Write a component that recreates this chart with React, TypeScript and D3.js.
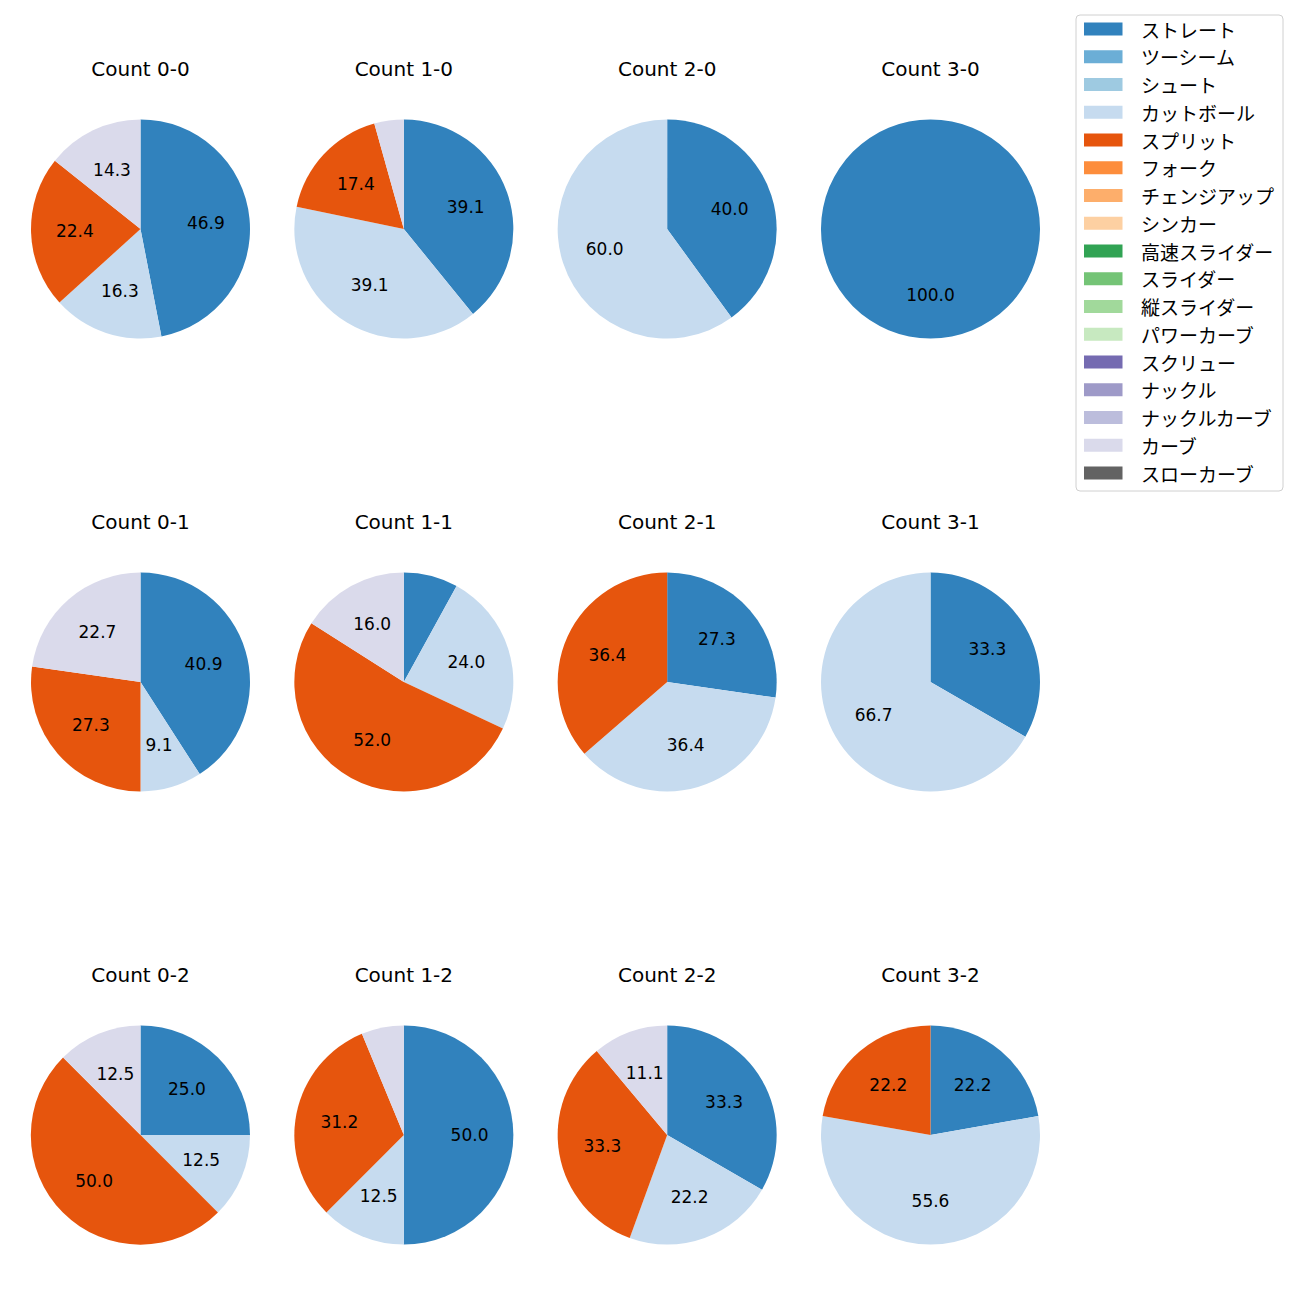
import React from "react";
import * as d3 from "d3";

const pitchTypes = [
  "ストレート", "ツーシーム", "シュート", "カットボール", "スプリット", "フォーク",
  "チェンジアップ", "シンカー", "高速スライダー", "スライダー", "縦スライダー",
  "パワーカーブ", "スクリュー", "ナックル", "ナックルカーブ", "カーブ", "スローカーブ",
];
const pitchColors = [
  "#3182bd", "#6baed6", "#9ecae1", "#c6dbef", "#e6550d", "#fd8d3c", "#fdae6b",
  "#fdd0a2", "#31a354", "#74c476", "#a1d99b", "#c7e9c0", "#756bb1", "#9e9ac8",
  "#bcbddc", "#dadaeb", "#636363",
];

const countLabels = ["0-0", "1-0", "2-0", "3-0", "0-1", "1-1", "2-1", "3-1", "0-2", "1-2", "2-2", "3-2"];
// pitch counts per ball-strike count
const straightCounts = [23, 9, 2, 1, 9, 2, 3, 1, 2, 8, 3, 2];
const cutterCounts = [8, 9, 3, 0, 2, 6, 4, 2, 1, 2, 2, 5];
const splitCounts = [11, 4, 0, 0, 6, 13, 4, 0, 4, 5, 3, 2];
const curveCounts = [7, 1, 0, 0, 5, 4, 0, 0, 1, 1, 1, 0];

const LATIN = "'DejaVu Sans', 'Noto Sans CJK JP', sans-serif";
const CJK = "'Noto Sans CJK JP', sans-serif";

function fmtPct(p: number): string {
  // Python-like %.1f with round-half-even
  const v = p * 10;
  const f = Math.floor(v);
  const diff = v - f;
  let n: number;
  if (Math.abs(diff - 0.5) < 1e-9) n = f % 2 === 0 ? f : f + 1;
  else n = Math.round(v);
  return (n / 10).toFixed(1);
}

export default function App() {
  const W = 1300, H = 1300;
  const colX = d3.scaleLinear().domain([0, 3]).range([140.5, 930.5]);
  const rowY = d3.scaleLinear().domain([0, 2]).range([229, 1135]);
  const R = 109.5;
  const pie = d3.pie<{ name: string; value: number; color: string }>().sort(null).value((d) => d.value);
  const arc = d3.arc<d3.PieArcDatum<any>>().innerRadius(0).outerRadius(R);

  const legendX = 1076, legendY = 15, legendW = 207, legendH = 476;
  const rowH = 27.75;

  return (
    <svg width={W} height={H} style={{ position: "absolute", left: 0, top: 0, background: "#fff" }}>
      <rect width={W} height={H} fill="#fff" />
      {countLabels.map((lab, i) => {
        const cx = colX(i % 4);
        const cy = rowY(Math.floor(i / 4));
        const vals = [straightCounts[i], 0, 0, cutterCounts[i], splitCounts[i], 0, 0, 0, 0, 0, 0, 0, 0, 0, 0, curveCounts[i], 0];
        const items = pitchTypes.map((name, k) => ({ name, value: vals[k], color: pitchColors[k] })).filter((d) => d.value > 0);
        const total = d3.sum(items, (d) => d.value);
        const arcs = pie(items);
        return (
          <g key={lab} transform={`translate(${cx},${cy})`}>
            <text x={0} y={-160} textAnchor="middle" dominantBaseline="central" fontSize={20} fontFamily={LATIN} fill="#000">
              {`Count ${lab}`}
            </text>
            {arcs.map((a, k) => (
              <path key={k} d={arc(a) as string} fill={a.data.color} />
            ))}
            {arcs.map((a, k) => {
              const pct = (a.data.value / total) * 100;
              if (pct < 8.5) return null;
              const mid = (a.startAngle + a.endAngle) / 2;
              const x = Math.sin(mid) * R * 0.6;
              const y = -Math.cos(mid) * R * 0.6;
              return (
                <text key={"t" + k} x={x} y={y} textAnchor="middle" dominantBaseline="central" fontSize={17} fontFamily={LATIN} fill="#000">
                  {fmtPct(pct)}
                </text>
              );
            })}
          </g>
        );
      })}
      <g>
        <rect x={legendX} y={legendY} width={legendW} height={legendH} rx={4} fill="#fff" stroke="#d0d0d0" />
        {pitchTypes.map((name, k) => {
          const y = 29 + k * rowH;
          return (
            <g key={name}>
              <rect x={1084} y={y - 6.5} width={38.5} height={13} fill={pitchColors[k]} />
              <text x={1141} y={y} dominantBaseline="central" fontSize={19} fontFamily={CJK} fill="#000">{name}</text>
            </g>
          );
        })}
      </g>
    </svg>
  );
}
